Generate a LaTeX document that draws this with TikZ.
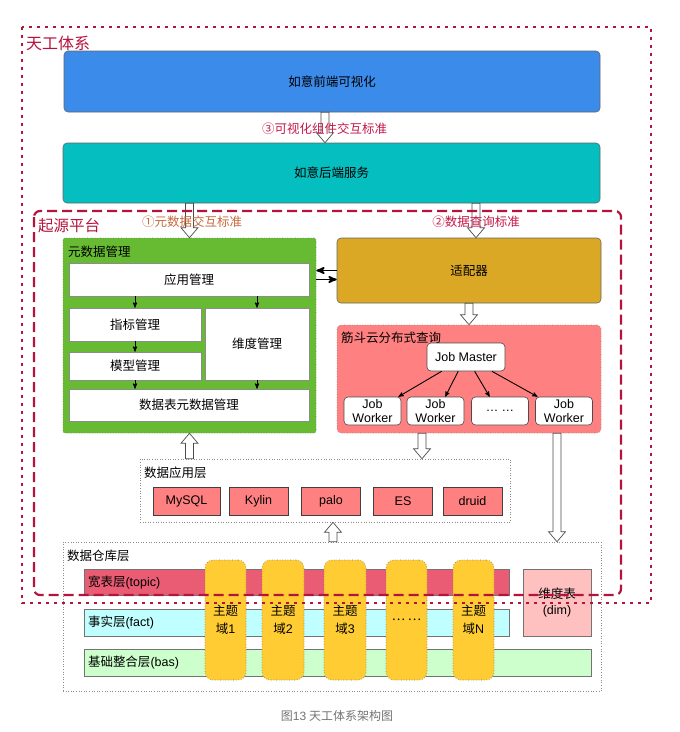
\documentclass[tikz,border=0pt]{standalone}
\usepackage{fontspec}
\setmainfont{Noto Sans CJK SC}
\newfontfamily\latinfont{Liberation Sans}
\usepackage{tikz}
\usetikzlibrary{arrows}
\usetikzlibrary{calc}
\definecolor{framered}{RGB}{181,18,60}
\definecolor{stdred}{RGB}{196,24,72}
\definecolor{metaorange}{RGB}{196,106,62}
\definecolor{frontblue}{RGB}{59,139,234}
\definecolor{backteal}{RGB}{4,190,191}
\definecolor{metagreen}{RGB}{102,187,51}
\definecolor{adaptgold}{RGB}{219,168,37}
\definecolor{dbred}{RGB}{255,128,128}
\definecolor{topicred}{RGB}{234,92,115}
\definecolor{factcyan}{RGB}{192,255,255}
\definecolor{basgreen}{RGB}{204,255,204}
\definecolor{dimpink}{RGB}{255,192,192}
\definecolor{domainyellow}{RGB}{255,204,51}
\newcommand{\lbl}{\fontsize{12.5}{14}\selectfont}
\newcommand{\flexarrow}[2]{%
  \coordinate (fa-a) at (#1);
  \coordinate (fa-b) at (#2);
  \coordinate (fa-n) at ($(fa-b)!10pt!(fa-a)$);
  \draw[hollow] ($(fa-a)!4pt!90:(fa-b)$) -- ($(fa-n)!4pt!-90:(fa-a)$)
    -- ($(fa-n)!8.5pt!-90:(fa-a)$) -- (fa-b)
    -- ($(fa-n)!8.5pt!90:(fa-a)$) -- ($(fa-n)!4pt!90:(fa-a)$)
    -- ($(fa-a)!4pt!-90:(fa-b)$) -- cycle;}

\begin{document}
\begin{tikzpicture}[
    x=1pt, y=-1pt,
    >=stealth',
    box/.style={draw=black!65, line width=0.6pt, inner sep=0pt, align=center, font=\lbl},
    round box/.style={box, rounded corners=4pt},
    white box/.style={box, fill=white, draw=black!45},
    db box/.style={box, fill=dbred, draw=black!75, font=\lbl\latinfont},
    job box/.style={round box, fill=white, draw=black!70, font=\lbl\latinfont},
    layer box/.style={draw=black!45, dotted, line width=0.6pt, inner sep=0pt},
    bar/.style={box, draw=black!55, align=left},
    domain box/.style={box, fill=domainyellow, draw=black!55, dotted, rounded corners=8pt, font=\fontsize{12.5}{18}\selectfont},
    hollow/.style={draw=black!70, fill=white, line width=0.7pt},
    small arrow/.style={->, draw=black, line width=0.9pt},
    big arrow/.style={->, draw=black, line width=1.8pt},
    title/.style={anchor=west, inner sep=0pt, text=framered},
    std label/.style={inner sep=0pt, font=\lbl},
    outer frame/.style={draw=framered, line width=2.2pt, dash pattern=on 3pt off 5pt},
    inner frame/.style={draw=framered, line width=2.2pt, dash pattern=on 10pt off 5pt, rounded corners=6pt}
    ]
    \useasboundingbox (0,0) rectangle (680,732);

    % columns for the hollow arrows
    \coordinate (c3) at (325,0);
    \coordinate (c2) at (476,0);
    \coordinate (cq) at (422,0);
    \coordinate (cw) at (333,0);

    % ruyi
    \node[round box, fill=frontblue, draw=black!60, minimum width=536, minimum height=61] (front) at (332,81.5) {如意前端可视化};
    \node[round box, fill=backteal, draw=black!60, minimum width=537, minimum height=60] (back) at (331.5,173) {如意后端服务};

    % metadata management
    \node[box, fill=metagreen, draw=black!50, dotted, rounded corners=2pt, minimum width=253, minimum height=195] (meta) at (189.5,335.5) {};
    \node[std label, anchor=west] at (68,252) {元数据管理};
    \node[white box, minimum width=240, minimum height=33] (app) at (189,279.5) {应用管理};
    \node[white box, minimum width=132, minimum height=33] (zhibiao) at (135,324.5) {指标管理};
    \node[white box, minimum width=104, minimum height=72] (weidu) at (257,344) {维度管理};
    \node[white box, minimum width=132, minimum height=28] (moxing) at (135,366) {模型管理};
    \node[white box, minimum width=240, minimum height=32] (tablemeta) at (189,405) {数据表元数据管理};
    \draw[small arrow] (app.south -| zhibiao) -- (zhibiao.north);
    \draw[small arrow] (app.south -| weidu) -- (weidu.north);
    \draw[small arrow] (zhibiao.south) -- (moxing.north);
    \draw[small arrow] (moxing.south) -- (tablemeta.north -| moxing);
    \draw[small arrow] (weidu.south) -- (tablemeta.north -| weidu);

    % adapter and jindou query
    \node[round box, fill=adaptgold, draw=black!60, minimum width=264, minimum height=65] (adapter) at (469,270.5) {适配器};
    \draw[big arrow] (adapter.west) -- (adapter.west -| meta.east);
    \draw[big arrow] ([yshift=-9pt]adapter.west -| meta.east) -- ([yshift=-9pt]adapter.west);
    \node[box, fill=dbred, draw=black!45, dotted, rounded corners=4pt, minimum width=264, minimum height=108] (jindou) at (469,379) {};
    \node[std label, anchor=west] at (341,338) {筋斗云分布式查询};
    \node[job box, minimum width=78, minimum height=28] (master) at (466,357) {Job Master};
    \node[job box, minimum width=57, minimum height=28] (w1) at (372.5,411) {Job\\Worker};
    \node[job box, minimum width=57, minimum height=28] (w2) at (435.5,411) {Job\\Worker};
    \node[job box, minimum width=57, minimum height=28] (wdots) at (500,411) {\ldots\ \ldots};
    \node[job box, minimum width=57, minimum height=28] (w4) at (564,411) {Job\\Worker};
    \draw[small arrow] ($(master.south west)!0.19!(master.south east)$) -- ($(w1.north west)!0.95!(w1.north east)$);
    \draw[small arrow] ($(master.south west)!0.40!(master.south east)$) -- ($(w2.north west)!0.67!(w2.north east)$);
    \draw[small arrow] ($(master.south west)!0.61!(master.south east)$) -- ($(wdots.north west)!0.32!(wdots.north east)$);
    \draw[small arrow] ($(master.south west)!0.83!(master.south east)$) -- ($(w4.north west)!0.04!(w4.north east)$);

    % data application layer
    \node[layer box, minimum width=370, minimum height=63] (appl) at (325,490.5) {};
    \node[std label, anchor=west] at (144,473) {数据应用层};
    \node[db box, minimum width=67, minimum height=28] (mysql) at (186.5,501) {MySQL};
    \node[db box, minimum width=59, minimum height=28] (kylin) at (258.5,501) {Kylin};
    \node[db box, minimum width=59, minimum height=28] (palo) at (331,501) {palo};
    \node[db box, minimum width=59, minimum height=28] (es) at (403,501) {ES};
    \node[db box, minimum width=59, minimum height=28] (druid) at (472.5,501) {druid};

    % data warehouse layer
    \node[layer box, minimum width=538, minimum height=149] (wh) at (332,616.5) {};
    \node[std label, anchor=west] at (67,556) {数据仓库层};
    \node[bar, fill=topicred, minimum width=425, minimum height=26, text width=417] (topic) at (296.5,582) {宽表层{\latinfont (topic)}};
    \node[bar, fill=factcyan, minimum width=425, minimum height=27, text width=417] (fact) at (296.5,622.5) {事实层{\latinfont (fact)}};
    \node[bar, fill=basgreen, minimum width=507, minimum height=27, text width=499] (bas) at (337.5,662.5) {基础整合层{\latinfont (bas)}};
    \node[box, fill=dimpink, draw=black!55, minimum width=68, minimum height=67, font=\fontsize{12.5}{16}\selectfont] (dim) at (557,602.5) {维度表\\{\latinfont (dim)}};
    \node[domain box, minimum width=41, minimum height=120] (d1) at (225.5,620) {主题\\域{\latinfont 1}};
    \node[domain box, minimum width=42, minimum height=120] (d2) at (283,620) {主题\\域{\latinfont 2}};
    \node[domain box, minimum width=42, minimum height=120] (d3) at (345,620) {主题\\域{\latinfont 3}};
    \node[domain box, minimum width=41, minimum height=120] (ddots) at (406.5,620) {\ldots\ \ldots};
    \node[domain box, minimum width=41, minimum height=120] (dn) at (473.5,620) {主题\\域{\latinfont N}};

    % hollow arrows
    \flexarrow{front.south -| c3}{back.north -| c3}
    \flexarrow{back.south -| meta}{meta.north}
    \flexarrow{back.south -| c2}{adapter.north -| c2}
    \flexarrow{adapter.south}{jindou.north}
    \flexarrow{jindou.south -| cq}{appl.north -| cq}
    \flexarrow{jindou.south -| dim}{wh.north -| dim}
    \flexarrow{appl.north -| meta}{meta.south}
    \flexarrow{wh.north -| cw}{appl.south -| cw}
    \node[std label, text=stdred] at (324.5,129) {③可视化组件交互标准};
    \node[std label, text=metaorange] at (192,222) {①元数据交互标准};
    \node[std label, text=stdred] at (476,222) {②数据查询标准};

    % frames
    \draw[outer frame] (22,27) rectangle (651,603);
    \node[title, font=\fontsize{16}{18}\selectfont] at (26,43) {天工体系};
    \draw[inner frame] (34,211) rectangle (621,595);
    \node[title, font=\fontsize{15.5}{18}\selectfont] at (38,226) {起源平台};

    \node[std label, text=black!55, font=\fontsize{12}{14}\selectfont] at (337,716) {图{\latinfont 13} 天工体系架构图};
\end{tikzpicture}
\end{document}
